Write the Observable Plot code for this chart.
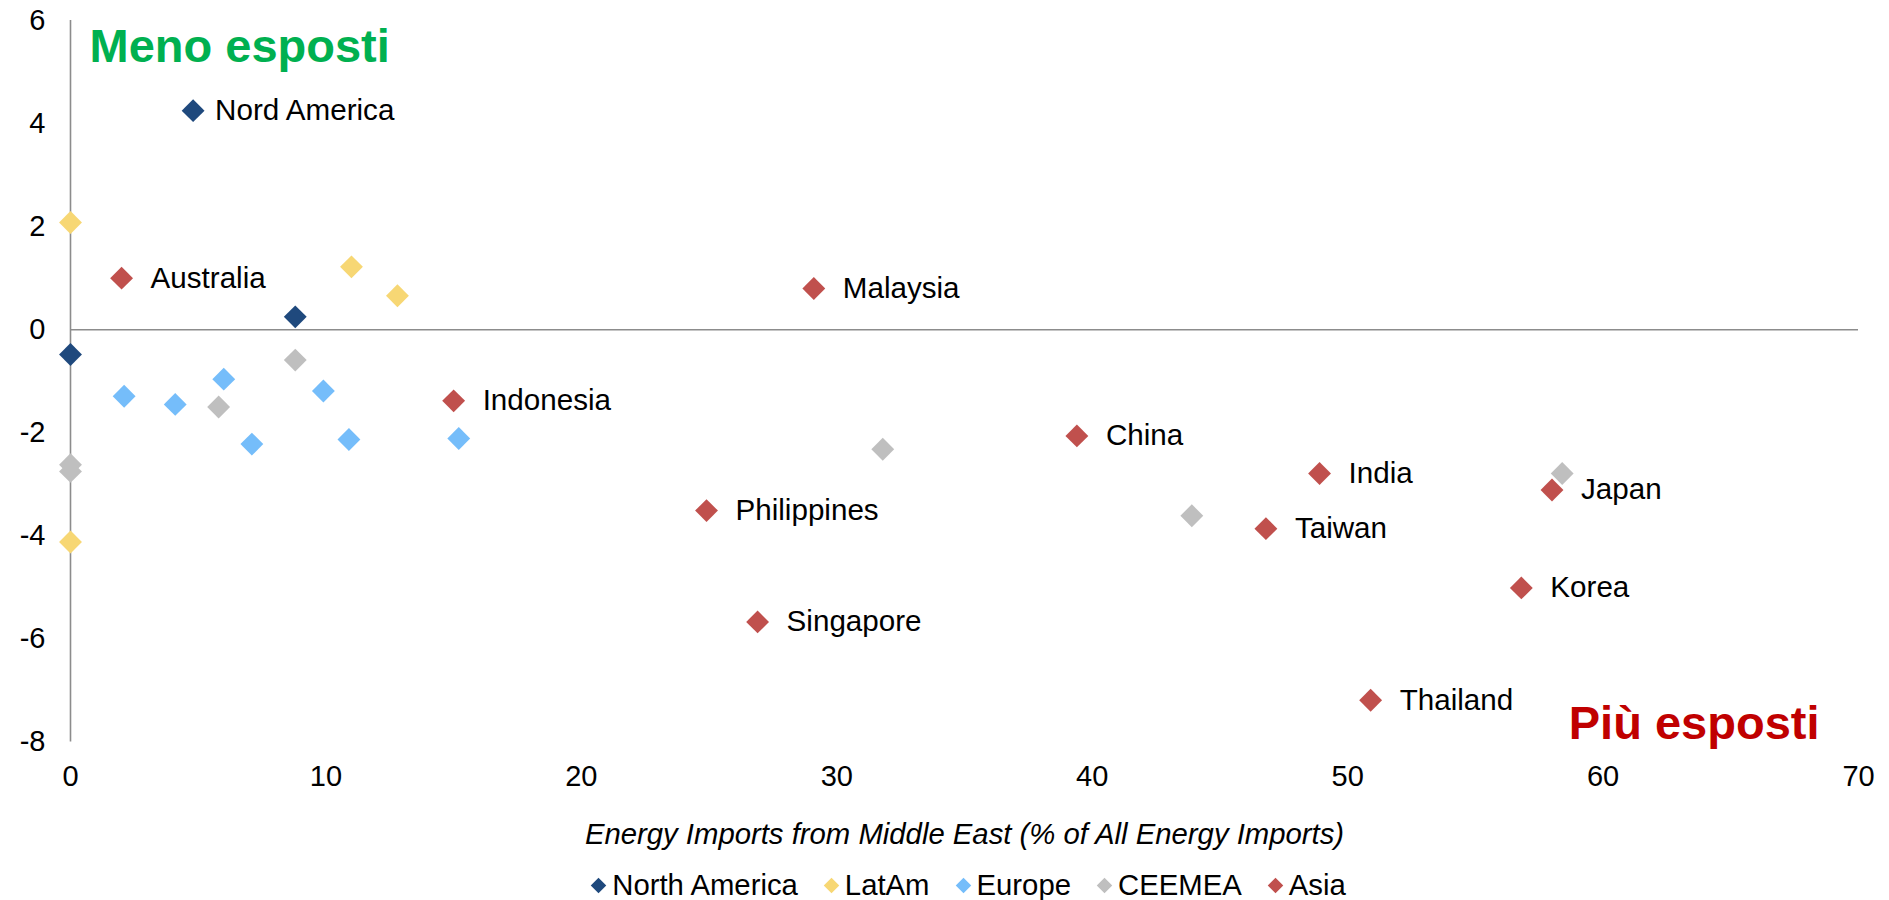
<!DOCTYPE html>
<html>
<head>
<meta charset="utf-8">
<script src="https://cdn.jsdelivr.net/npm/d3@7"></script>
<script src="https://cdn.jsdelivr.net/npm/@observablehq/plot@0.6"></script>
<style>
  html, body { margin: 0; padding: 0; background: #fff; overflow: hidden; }
  #chart svg { display: block; }
  .legend { display: flex; justify-content: center; align-items: center; height: 30px;
    font-family: "Liberation Sans", Arial, sans-serif; font-size: 29.3px; color: #000; padding-left: 50px; }
  .legend .item { display: flex; align-items: center; margin: 0 14px; }
  .legend .sw { width: 11px; height: 11px; transform: rotate(45deg); margin-right: 8px; }
</style>
</head>
<body>
<div id="chart"></div>
<script>
// ---- data ----
const regions = ["North America", "LatAm", "Europe", "CEEMEA", "Asia"];
const regionColors = ["#1F497D", "#F7D774", "#75BDFA", "#BFBFBF", "#C0504D"];

const northAmericaX = [4.8, 8.8, 0];
const northAmericaY = [4.25, 0.25, -0.48];
const northAmericaLabels = ["Nord America", "", ""];

const latAmX = [0, 11.0, 12.8, 0];
const latAmY = [2.08, 1.22, 0.66, -4.12];

const europeX = [2.1, 4.1, 6.0, 7.1, 9.9, 10.9, 15.2];
const europeY = [-1.29, -1.45, -0.96, -2.22, -1.19, -2.13, -2.11];

const ceemeaX = [8.8, 5.8, 0, 0, 31.8, 43.9, 58.4];
const ceemeaY = [-0.59, -1.5, -2.62, -2.75, -2.32, -3.61, -2.79];

const asiaLabels = ["Australia", "Malaysia", "Indonesia", "China", "India", "Japan",
  "Philippines", "Taiwan", "Korea", "Singapore", "Thailand"];
const asiaX = [2.0, 29.1, 15.0, 39.4, 48.9, 58.0, 24.9, 46.8, 56.8, 26.9, 50.9];
const asiaY = [1.0, 0.8, -1.38, -2.06, -2.79, -3.11, -3.51, -3.86, -5.01, -5.67, -7.19];

const xTicks = [0, 10, 20, 30, 40, 50, 60, 70];
const yTicks = [-8, -6, -4, -2, 0, 2, 4, 6];
const xTitle = "Energy Imports from Middle East (% of All Energy Imports)";
const topLeftNote = "Meno esposti";
const bottomRightNote = "Più esposti";

// ---- build table ----
function series(region, xs, ys, labels) {
  return xs.map((x, i) => ({ region, x, y: ys[i], label: labels ? labels[i] : "" }));
}
const points = [
  ...series("North America", northAmericaX, northAmericaY, northAmericaLabels),
  ...series("LatAm", latAmX, latAmY),
  ...series("Europe", europeX, europeY),
  ...series("CEEMEA", ceemeaX, ceemeaY),
  ...series("Asia", asiaX, asiaY, asiaLabels)
];

const font = "'Liberation Sans', Arial, sans-serif";

const chart = Plot.plot({
  width: 1889,
  height: 870,
  marginLeft: 70,
  marginRight: 31,
  marginTop: 20,
  marginBottom: 128.5,
  style: { fontFamily: font, fontSize: "29px", color: "#000", background: "#fff" },
  x: { domain: [0, 70] },
  y: { domain: [-8, 6] },
  color: { domain: regions, range: regionColors },
  marks: [
    Plot.ruleY([0], { stroke: "#8c8c8c", strokeWidth: 1.6 }),
    Plot.ruleX([0], { stroke: "#8c8c8c", strokeWidth: 1.6 }),
    Plot.axisX({ ticks: xTicks, tickSize: 0, tickPadding: 23, label: null, fill: "#000", fontSize: 29 }),
    Plot.axisY({ ticks: yTicks, tickSize: 0, tickPadding: 25, label: null, fill: "#000", fontSize: 29,
      tickFormat: d => `${d}` }),
    Plot.dot(points, { x: "x", y: "y", fill: "region", symbol: "diamond2", r: 10.3, stroke: "none" }),
    Plot.text(points.filter(d => d.label && d.region === "North America"),
      { x: "x", y: "y", text: "label", dx: 22, textAnchor: "start", fill: "#000", fontSize: 29.6 }),
    Plot.text(points.filter(d => d.label && d.region === "Asia"),
      { x: "x", y: "y", text: "label", dx: 29, textAnchor: "start", fill: "#000", fontSize: 29.6 }),
    Plot.text([xTitle], { frameAnchor: "bottom", dy: 93, text: d => d, fontStyle: "italic",
      fontSize: 29.3, fill: "#000", lineAnchor: "middle" }),
    Plot.text([topLeftNote], { frameAnchor: "top-left", dx: 19, dy: 26, text: d => d, textAnchor: "start",
      fontWeight: "bold", fontSize: 47, fill: "#00B050", lineAnchor: "middle" }),
    Plot.text([bottomRightNote], { frameAnchor: "bottom-right", dx: -39, dy: -18, text: d => d, textAnchor: "end",
      fontWeight: "bold", fontSize: 47, fill: "#C00000", lineAnchor: "middle" })
  ]
});

document.getElementById("chart").appendChild(chart);

// legend
const legend = document.createElement("div");
legend.className = "legend";
regions.forEach((r, i) => {
  const item = document.createElement("div");
  item.className = "item";
  const sw = document.createElement("span");
  sw.className = "sw";
  sw.style.background = regionColors[i];
  const lab = document.createElement("span");
  lab.textContent = r;
  item.appendChild(sw);
  item.appendChild(lab);
  legend.appendChild(item);
});
document.body.appendChild(legend);
</script>
</body>
</html>
